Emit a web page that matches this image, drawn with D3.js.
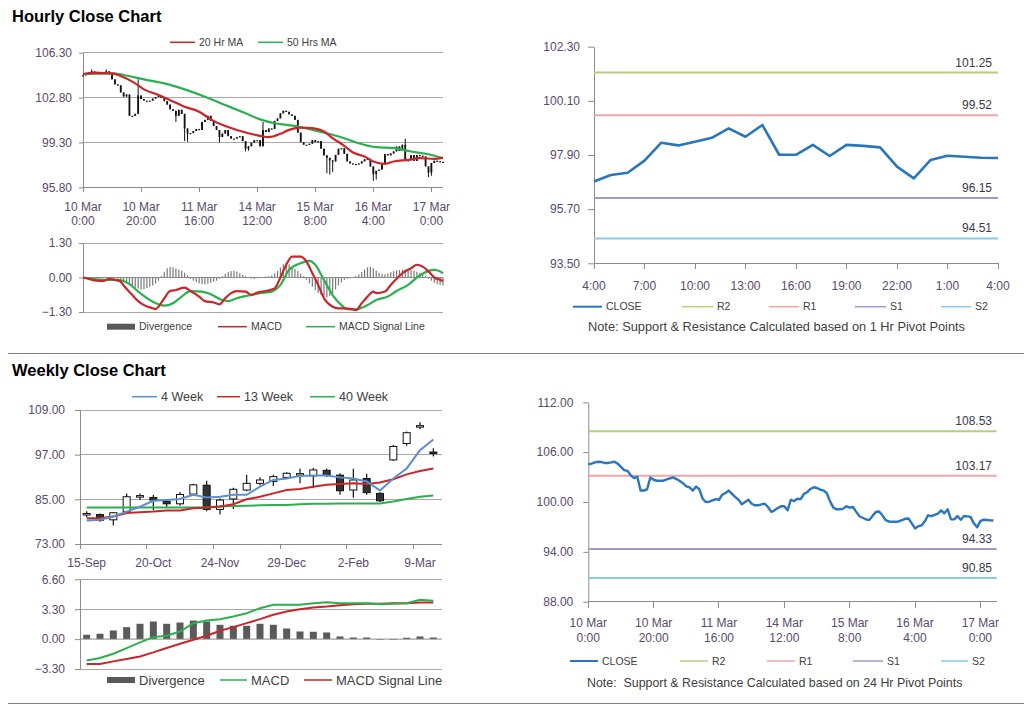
<!DOCTYPE html>
<html><head><meta charset="utf-8">
<script src="https://cdn.jsdelivr.net/npm/d3@7"></script>
<style>body{margin:0;background:#fff}svg{display:block}</style>
</head><body><svg id="c" width="1024" height="706"></svg>
<script>
// ---------------- DATA ----------------
const hourTickIdx = [0, 20, 40, 60, 80, 100, 120];
const hourTickLabels = [["10 Mar","0:00"],["10 Mar","20:00"],["11 Mar","16:00"],["14 Mar","12:00"],["15 Mar","8:00"],["16 Mar","4:00"],["17 Mar","0:00"]];

// hourly close 10 Mar 0:00 .. 16 Mar 3:00 (index 0..99)
const hourlyCloseEarly = [104.54,104.62,104.77,104.85,104.81,104.70,104.70,104.77,104.85,104.62,
 104.22,103.83,103.75,103.20,102.88,103.04,101.38,101.38,101.53,102.96,
 102.68,102.56,102.56,102.56,102.72,102.84,102.96,102.76,102.52,102.25,
 101.89,101.77,101.38,101.85,101.53,100.39,99.99,100.03,100.19,100.35,
 100.27,100.90,101.06,101.38,100.98,100.58,100.27,99.72,99.99,100.27,
 99.79,99.60,99.60,99.72,99.79,99.40,98.81,99.00,99.28,99.48,
 99.48,99.00,100.27,100.11,100.39,100.35,100.98,101.18,101.57,101.77,
 101.69,101.49,101.38,101.06,100.07,99.32,99.12,99.12,99.20,99.48,
 99.32,99.40,98.81,98.29,98.10,97.90,97.82,98.33,98.81,98.85,
 98.41,97.82,97.66,97.62,97.62,97.66,97.82,97.98,98.02,97.42];

// last 24 hours (16 Mar 4:00 .. 17 Mar 4:00)
const dayHours = ["4:00","5:00","6:00","7:00","8:00","9:00","10:00","11:00","12:00","13:00","14:00","15:00","16:00","17:00","18:00","19:00","20:00","21:00","22:00","23:00","0:00","1:00","2:00","3:00","4:00"];
const dayClose = [96.82,97.09,97.18,97.67,98.40,98.29,98.44,98.60,98.98,98.64,99.12,97.91,97.91,98.31,97.86,98.31,98.27,98.21,97.43,96.95,97.70,97.87,97.83,97.79,97.78];

// notable candle wicks [hour, high, low]
const hourlyWicks = [[3,105.0,null],[8,105.0,null],[19,104.22,null],[32,null,100.9],[35,null,99.4],[36,null,99.35],[47,null,99.3],[56,null,98.6],[57,null,98.65],[62,100.9,null],[84,null,96.9],[85,null,96.8],[86,null,97.0],[100,null,96.3],[101,null,96.4],[111,99.6,null],[119,null,96.6],[120,null,96.7]];

const ma20Pts = [[0,104.64],[5,104.72],[10,104.69],[13,104.48],[18,103.91],[21,103.44],[26,103.0],[30,102.6],[35,102.09],[40,101.7],[44,101.1],[49,100.58],[53,100.27],[58,99.96],[61,99.81],[64,99.71],[68,99.97],[71,100.28],[75,100.46],[79,100.41],[83,100.15],[86,99.63],[90,99.03],[93,98.51],[97,98.2],[100,97.81],[104,97.63],[107,97.81],[112,97.94],[116,98.07],[121,98.02],[124,98.12]];
const ma50Pts = [[0,104.64],[10,104.69],[14,104.56],[21,104.22],[28,103.91],[35,103.44],[42,102.87],[49,102.22],[56,101.57],[61,101.1],[66,100.8],[70,100.67],[74,100.54],[78,100.33],[84,100.02],[90,99.63],[95,99.24],[101,98.93],[107,98.85],[113,98.59],[119,98.38],[124,98.07]];

const hMacdPts = [[0,0],[2,-0.05],[4,-0.11],[7,-0.13],[9,-0.05],[11,-0.09],[13,-0.16],[14,-0.30],[17,-0.66],[19,-0.89],[21,-1.04],[24,-1.16],[25,-1.19],[26,-1.10],[28,-0.78],[30,-0.51],[32,-0.47],[35,-0.38],[37,-0.51],[40,-0.72],[42,-0.89],[45,-0.94],[47,-1.01],[49,-0.78],[51,-0.59],[53,-0.51],[56,-0.53],[58,-0.66],[60,-0.57],[63,-0.51],[66,-0.41],[68,0],[70,0.48],[72,0.79],[75,0.79],[77,0.60],[79,0.16],[81,-0.28],[83,-0.78],[86,-1.10],[88,-1.16],[90,-1.16],[93,-1.20],[94,-1.23],[96,-0.97],[98,-0.72],[100,-0.53],[101,-0.59],[104,-0.53],[106,-0.28],[108,-0.05],[110,0.16],[113,0.35],[115,0.48],[117,0.41],[119,0.23],[121,0],[123,-0.09],[124,-0.13]];
const hSignalPts = [[0,0],[3,-0.05],[8,-0.09],[12,-0.09],[16,-0.25],[19,-0.53],[22,-0.78],[26,-1.01],[28,-1.06],[31,-0.97],[34,-0.72],[37,-0.51],[41,-0.53],[44,-0.63],[48,-0.85],[50,-0.89],[53,-0.78],[57,-0.68],[61,-0.59],[65,-0.53],[68,-0.28],[71,0.29],[75,0.54],[78,0.63],[80,0.48],[83,-0.09],[86,-0.66],[89,-1.04],[91,-1.19],[94,-1.20],[98,-1.04],[101,-0.85],[105,-0.72],[108,-0.51],[112,-0.28],[115,0],[119,0.25],[121,0.29],[123,0.23],[124,0.16]];
const hDivergence = [0,-0.02,-0.04,-0.05,-0.03,-0.02,-0.03,-0.02,0.01,0.02,0.01,-0.02,
 -0.05,-0.10,-0.14,-0.20,-0.26,-0.32,-0.38,-0.42,-0.45,-0.44,-0.40,-0.35,-0.30,-0.22,-0.12,0.05,0.22,0.35,
 0.40,0.38,0.34,0.30,0.26,0.18,0.08,-0.05,-0.12,-0.18,-0.22,-0.25,-0.26,-0.24,-0.20,-0.16,-0.12,-0.05,0.05,0.14,
 0.20,0.24,0.25,0.22,0.16,0.10,0.05,0.00,-0.04,-0.05,-0.03,-0.02,0.01,0.03,0.05,0.08,0.15,0.25,0.38,0.50,
 0.55,0.50,0.42,0.33,0.25,0.15,0.05,-0.08,-0.22,-0.35,-0.48,-0.58,-0.66,-0.72,-0.75,-0.70,-0.60,-0.45,-0.30,-0.18,
 -0.10,-0.05,-0.03,-0.02,0.05,0.12,0.20,0.30,0.38,0.40,0.35,0.26,0.18,0.14,0.12,0.15,0.20,0.24,0.27,0.28,
 0.30,0.30,0.30,0.28,0.26,0.22,0.18,0.12,0.05,-0.05,-0.12,-0.20,-0.25,-0.28,-0.30];

const hourLevels = [{name:"R2",value:101.25,color:"#b5d07c"},{name:"R1",value:99.52,color:"#f0a6a6"},{name:"S1",value:96.15,color:"#a795c4"},{name:"S2",value:94.51,color:"#86cce4"}];
const dayLevels  = [{name:"R2",value:108.53,color:"#b5d07c"},{name:"R1",value:103.17,color:"#f0a6a6"},{name:"S1",value:94.33,color:"#a795c4"},{name:"S2",value:90.85,color:"#86cce4"}];

// weekly
const weeks = ["15-Sep","22-Sep","29-Sep","6-Oct","13-Oct","20-Oct","27-Oct","3-Nov","10-Nov","17-Nov","24-Nov","1-Dec","8-Dec","15-Dec","22-Dec","29-Dec","5-Jan","12-Jan","19-Jan","26-Jan","2-Feb","9-Feb","16-Feb","23-Feb","2-Mar","9-Mar","16-Mar"];
const wOpen  = [81.0,80.9,79.5,81.7,85.8,85.5,84.4,83.8,86.4,88.8,82.3,85.1,87.5,89.3,89.8,90.9,91.7,91.3,92.8,91.5,87.5,90.6,86.6,95.6,100.0,104.6,97.7];
const wHigh  = [81.8,81.2,81.6,86.6,86.6,86.2,84.8,87.0,89.2,90.0,85.2,88.1,91.6,90.9,91.6,92.3,93.3,93.5,93.3,92.0,93.2,91.9,86.9,99.6,103.2,105.7,98.7];
const wLow   = [80.2,79.0,78.0,81.2,84.8,82.1,82.8,83.3,86.2,81.8,80.9,82.4,87.2,88.8,88.6,90.6,89.3,88.0,91.0,86.2,85.4,86.2,84.3,95.3,99.4,103.8,96.5];
const wClose = [81.2,79.4,81.4,85.7,86.0,84.8,83.8,86.3,88.9,82.3,84.8,87.7,89.3,90.2,91.1,92.0,91.9,92.9,91.6,87.3,90.2,86.8,84.6,99.2,102.9,104.8,97.5];
const ma4w  = [79.3,79.5,80.4,81.7,83.0,84.6,84.8,85.1,86.2,85.5,85.7,86.2,86.2,88.4,90.2,90.6,91.3,91.4,91.4,90.9,90.6,89.8,87.4,90.6,93.3,98.2,101.1];
const ma13w = [79.9,79.9,80.4,81.3,81.5,81.7,82.0,82.0,82.6,82.8,83.1,83.7,85.0,85.7,86.6,87.5,87.8,88.4,88.9,89.1,89.3,89.1,89.5,90.4,91.7,92.6,93.3];
const ma40w = [82.8,82.8,82.8,82.8,82.8,82.8,82.8,82.8,82.8,82.8,83.1,83.2,83.3,83.4,83.5,83.5,83.7,83.8,83.8,83.9,83.9,83.9,83.9,84.4,85.1,85.7,86.0];
const wDivergence = [0.48,0.59,0.95,1.32,1.69,1.94,1.69,1.83,2.05,1.94,1.58,1.47,1.47,1.69,1.58,1.17,0.84,0.81,0.73,0.29,0.18,0.18,-0.07,-0.07,0.15,0.29,0.18];
const wMacd   = [-2.35,-2.09,-1.61,-0.99,-0.37,0.22,0.37,0.84,1.76,2.05,2.20,2.49,2.86,3.41,3.78,3.78,3.78,3.96,4.07,3.96,3.96,3.96,3.85,3.89,3.96,4.33,4.22];
const wSignal = [-2.75,-2.75,-2.46,-2.20,-1.91,-1.47,-0.99,-0.51,-0.07,0.37,0.92,1.32,1.76,2.20,2.68,3.04,3.30,3.48,3.59,3.74,3.85,3.89,3.89,3.96,3.96,4.03,4.03];
const weekLabelIdx = [0,5,10,15,20,25];

const hourlyClose = hourlyCloseEarly.concat(dayClose);

// ---------------- DRAWING ----------------
const FONT = '"Liberation Sans", Arial, sans-serif';
const TICKC = "#5a4a6c", LEGC = "#404040", GRID = "#a8a8a8", AXC = "#8c8c8c";
const RED = "#cc2529", GREEN = "#2bb04f", BLUE = "#2a76bc";
const svg = d3.select("#c").attr("font-family", FONT);

function leftAxis(scale, ticks, x, tick, pad) {
  const g = svg.append("g").attr("transform", `translate(${x},0)`)
    .call(d3.axisLeft(scale).tickValues(ticks).tickFormat(d3.format(".2f")).tickSize(tick).tickSizeOuter(0).tickPadding(pad));
  g.select(".domain").attr("stroke", AXC);
  g.selectAll(".tick line").attr("stroke", AXC);
  g.selectAll("text").attr("fill", TICKC).attr("font-size", 12).attr("font-family", FONT);
  return g;
}
function grid(scale, ticks, x1, x2, color) {
  svg.append("g").selectAll("line").data(ticks).join("line")
    .attr("x1", x1).attr("x2", x2).attr("y1", d => scale(d)).attr("y2", d => scale(d))
    .attr("stroke", color || GRID).attr("stroke-width", 1).attr("shape-rendering","crispEdges");
}
function legLine(x1, x2, y, color, label, fs, sw) {
  svg.append("line").attr("x1", x1).attr("x2", x2).attr("y1", y).attr("y2", y).attr("stroke", color).attr("stroke-width", sw || 2);
  svg.append("text").attr("x", x2 + 4).attr("y", y).attr("dy", "0.35em").attr("font-size", fs).attr("fill", LEGC).text(label);
}
function legBar(x1, x2, y, label, fs) {
  svg.append("rect").attr("x", x1).attr("y", y - 3).attr("width", x2 - x1).attr("height", 6).attr("fill", "#595959");
  svg.append("text").attr("x", x2 + 4).attr("y", y).attr("dy", "0.35em").attr("font-size", fs).attr("fill", LEGC).text(label);
}
function bottomAxisLine(scale, ticks, y, x1, x2, tick) {
  svg.append("line").attr("x1", x1).attr("x2", x2).attr("y1", y).attr("y2", y).attr("stroke", AXC).attr("shape-rendering","crispEdges");
  svg.append("g").selectAll("line").data(ticks).join("line")
    .attr("x1", d => scale(d)).attr("x2", d => scale(d)).attr("y1", y).attr("y2", y + tick)
    .attr("stroke", AXC).attr("shape-rendering","crispEdges");
}

// Titles and separators
svg.append("text").attr("x", 12).attr("y", 22).attr("font-size", 16.5).attr("font-weight", "bold").attr("fill", "#000").text("Hourly Close Chart");
svg.append("text").attr("x", 12).attr("y", 376).attr("font-size", 16.5).attr("font-weight", "bold").attr("fill", "#000").text("Weekly Close Chart");
svg.append("line").attr("x1", 8).attr("x2", 1024).attr("y1", 353.5).attr("y2", 353.5).attr("stroke", "#808080");
svg.append("line").attr("x1", 8).attr("x2", 1024).attr("y1", 703.5).attr("y2", 703.5).attr("stroke", "#808080");

// ===== Panel 1: hourly candles =====
const xH = d3.scaleLinear().domain([0, 124]).range([83, 443]);
const y1 = d3.scaleLinear().domain([95.8, 106.3]).range([187.3, 52.7]);
const p1Ticks = [95.8, 99.3, 102.8, 106.3];
grid(y1, [99.3, 102.8, 106.3], 83, 443);
leftAxis(y1, p1Ticks, 83, 4, 7);
bottomAxisLine(xH, hourTickIdx, 187.3, 83, 443, 5);
function twoLineLabels(scale, y, gap) {
  const g = svg.append("g");
  hourTickIdx.forEach((h, i) => {
    const t = g.append("text").attr("x", scale(h)).attr("y", y).attr("text-anchor", "middle").attr("font-size", 12).attr("fill", TICKC);
    t.append("tspan").attr("x", scale(h)).text(hourTickLabels[i][0]);
    t.append("tspan").attr("x", scale(h)).attr("dy", gap).text(hourTickLabels[i][1]);
  });
}
twoLineLabels(xH, 211, 14);
const wickMap = new Map(hourlyWicks.map(w => [w[0], w]));
const candles = hourlyClose.map((c, i) => {
  const o = i === 0 ? c : hourlyClose[i - 1];
  const w = wickMap.get(i);
  const hi = Math.max(o, c, w && w[1] != null ? w[1] : -Infinity);
  const lo = Math.min(o, c, w && w[2] != null ? w[2] : Infinity);
  return {i, o, c, hi, lo};
});
const cg = svg.append("g");
cg.selectAll("line").data(candles).join("line")
  .attr("x1", d => xH(d.i)).attr("x2", d => xH(d.i)).attr("y1", d => y1(d.hi)).attr("y2", d => y1(d.lo))
  .attr("stroke", "#111").attr("stroke-width", 1);
cg.selectAll("rect").data(candles).join("rect")
  .attr("x", d => xH(d.i) - 0.9).attr("width", 1.8)
  .attr("y", d => y1(Math.max(d.o, d.c))).attr("height", d => Math.max(1.2, Math.abs(y1(d.o) - y1(d.c))))
  .attr("fill", "#111");
const lineH = y => d3.line().x(d => xH(d[0])).y(d => y(d[1])).curve(d3.curveMonotoneX);
svg.append("path").attr("d", lineH(y1)(ma50Pts)).attr("fill", "none").attr("stroke", GREEN).attr("stroke-width", 2.2);
svg.append("path").attr("d", lineH(y1)(ma20Pts)).attr("fill", "none").attr("stroke", RED).attr("stroke-width", 2.2);
legLine(170, 195, 42.3, RED, "20 Hr MA", 10.5, 1.5);
legLine(258, 283, 42.3, GREEN, "50 Hrs MA", 10.5, 1.5);

// ===== Panel 2: hourly MACD =====
const y2 = d3.scaleLinear().domain([-1.3, 1.3]).range([312, 243]);
grid(y2, [1.3, -1.3], 83, 443);
leftAxis(y2, [-1.3, 0, 1.3], 83, 4, 7);
svg.append("g").selectAll("rect").data(hDivergence).join("rect")
  .attr("x", (d, i) => xH(i) - 0.6).attr("width", 1.2)
  .attr("y", d => y2(Math.max(0, d))).attr("height", d => Math.abs(y2(d) - y2(0)))
  .attr("fill", "#7a7a7a");
svg.append("line").attr("x1", 83).attr("x2", 443).attr("y1", y2(0)).attr("y2", y2(0)).attr("stroke", "#8a8a8a");
svg.append("path").attr("d", lineH(y2)(hSignalPts)).attr("fill", "none").attr("stroke", GREEN).attr("stroke-width", 2.2);
svg.append("path").attr("d", lineH(y2)(hMacdPts)).attr("fill", "none").attr("stroke", RED).attr("stroke-width", 2.2);
legBar(107, 135, 326.7, "Divergence", 10.5);
legLine(218, 247, 326.7, RED, "MACD", 10.5, 1.5);
legLine(306, 335, 326.7, GREEN, "MACD Signal Line", 10.5, 1.5);

// ===== Panel 3: last 24 hours with pivots =====
const x3 = d3.scaleLinear().domain([0, 24]).range([594, 998]);
const y3 = d3.scaleLinear().domain([93.5, 102.3]).range([263.3, 46.7]);
leftAxis(y3, [93.5, 95.7, 97.9, 100.1, 102.3], 594, 6, 8);
const p3TickIdx = d3.range(0, 25, 3);
bottomAxisLine(x3, p3TickIdx, 263.3, 594, 998, 6);
svg.append("g").selectAll("text").data(p3TickIdx).join("text")
  .attr("x", d => x3(d)).attr("y", 290).attr("text-anchor", "middle").attr("font-size", 12).attr("fill", TICKC)
  .text(d => dayHours[d]);
function levels(lv, x, y, x1, x2, labelX) {
  const g = svg.append("g");
  g.selectAll("line").data(lv).join("line").attr("x1", x1).attr("x2", x2)
    .attr("y1", d => y(d.value)).attr("y2", d => y(d.value)).attr("stroke", d => d.color).attr("stroke-width", 2);
  g.selectAll("text").data(lv).join("text").attr("x", labelX).attr("y", d => y(d.value) - 6)
    .attr("text-anchor", "end").attr("font-size", 12).attr("fill", "#3a3a4a").text(d => d.value.toFixed(2));
}
levels(hourLevels, x3, y3, 594, 998, 992);
svg.append("path").attr("d", d3.line().x((d, i) => x3(i)).y(d => y3(d))(dayClose))
  .attr("fill", "none").attr("stroke", BLUE).attr("stroke-width", 2.6).attr("stroke-linejoin", "round");
legLine(573, 602, 306.7, BLUE, "CLOSE", 10.5, 2);
legLine(682, 713, 306.7, hourLevels[0].color, "R2", 10.5, 1.5);
legLine(769, 799, 306.7, hourLevels[1].color, "R1", 10.5, 1.5);
legLine(855, 886, 306.7, hourLevels[2].color, "S1", 10.5, 1.5);
legLine(941, 971, 306.7, hourLevels[3].color, "S2", 10.5, 1.5);
svg.append("text").attr("x", 588).attr("y", 326.7).attr("dy", "0.35em").attr("font-size", 12.8).attr("fill", LEGC)
  .text("Note: Support & Resistance Calculated based on 1 Hr Pivot Points");

// ===== Panel 4: weekly candles =====
const xW = d3.scaleBand().domain(d3.range(weeks.length)).range([80, 440]);
const bw = xW.bandwidth();
const cx = i => xW(i) + bw / 2;
const y4 = d3.scaleLinear().domain([73, 109]).range([544, 410]);
grid(y4, [85, 97, 109], 80, 442);
leftAxis(y4, [73, 85, 97, 109], 80, 5, 10);
const wBounds = [0, 5, 10, 15, 20, 25];
svg.append("line").attr("x1", 80).attr("x2", 442).attr("y1", 544).attr("y2", 544).attr("stroke", AXC).attr("shape-rendering","crispEdges");
svg.append("g").selectAll("line").data(wBounds).join("line")
  .attr("x1", d => xW(d)).attr("x2", d => xW(d)).attr("y1", 544).attr("y2", 549).attr("stroke", AXC).attr("shape-rendering","crispEdges");
svg.append("g").selectAll("text").data(weekLabelIdx).join("text")
  .attr("x", d => cx(d)).attr("y", 567).attr("text-anchor", "middle").attr("font-size", 12).attr("fill", TICKC)
  .text(d => weeks[d]);
const wk = weeks.map((w, i) => ({i, o: wOpen[i], h: wHigh[i], l: wLow[i], c: wClose[i]}));
const wg = svg.append("g");
const lineW = y => d3.line().x((d, i) => cx(i)).y(d => y(d));
svg.append("path").attr("d", lineW(y4)(ma40w)).attr("fill", "none").attr("stroke", GREEN).attr("stroke-width", 2);
svg.append("path").attr("d", lineW(y4)(ma13w)).attr("fill", "none").attr("stroke", RED).attr("stroke-width", 2);
svg.append("path").attr("d", lineW(y4)(ma4w)).attr("fill", "none").attr("stroke", "#5b8fd0").attr("stroke-width", 2);
wg.selectAll("line").data(wk).join("line")
  .attr("x1", d => cx(d.i)).attr("x2", d => cx(d.i)).attr("y1", d => y4(d.h)).attr("y2", d => y4(d.l))
  .attr("stroke", "#111").attr("stroke-width", 1.2);
wg.selectAll("rect").data(wk).join("rect")
  .attr("x", d => cx(d.i) - 3.5).attr("width", 7)
  .attr("y", d => y4(Math.max(d.o, d.c))).attr("height", d => Math.max(1.5, Math.abs(y4(d.o) - y4(d.c))))
  .attr("fill", d => d.c >= d.o ? "#fff" : "#333").attr("stroke", "#111").attr("stroke-width", 1);
legLine(132, 157, 396.7, "#5b8fd0", "4 Week", 12.5, 1.5);
legLine(217, 240, 396.7, RED, "13 Week", 12.5, 1.5);
legLine(310, 335, 396.7, GREEN, "40 Week", 12.5, 1.5);

// ===== Panel 5: weekly MACD =====
const y5 = d3.scaleLinear().domain([-3.3, 6.6]).range([669, 579.3]);
grid(y5, [6.6, 3.3, -3.3], 80, 442);
leftAxis(y5, [-3.3, 0, 3.3, 6.6], 80, 5, 10);
svg.append("g").selectAll("rect").data(wDivergence).join("rect")
  .attr("x", (d, i) => cx(i) - 3.5).attr("width", 7)
  .attr("y", d => y5(Math.max(0, d))).attr("height", d => Math.abs(y5(d) - y5(0)))
  .attr("fill", "#5a5a5a");
svg.append("line").attr("x1", 80).attr("x2", 442).attr("y1", y5(0)).attr("y2", y5(0)).attr("stroke", "#8a8a8a");
svg.append("path").attr("d", lineW(y5)(wSignal)).attr("fill", "none").attr("stroke", RED).attr("stroke-width", 2);
svg.append("path").attr("d", lineW(y5)(wMacd)).attr("fill", "none").attr("stroke", GREEN).attr("stroke-width", 2);
legBar(107, 135, 680, "Divergence", 13);
legLine(220, 247, 680, GREEN, "MACD", 13, 1.5);
legLine(304, 332, 680, RED, "MACD  Signal Line", 13, 1.5);

// ===== Panel 6: hourly close with 24h pivots =====
const x6 = d3.scaleLinear().domain([0, 125]).range([588.3, 996.7]);
const y6 = d3.scaleLinear().domain([88, 112]).range([601.7, 402.3]);
leftAxis(y6, [88, 94, 100, 106, 112], 588.3, 5, 10);
bottomAxisLine(x6, hourTickIdx, 601.7, 588.3, 996.7, 6);
twoLineLabels(x6, 627, 15);
levels(dayLevels, x6, y6, 588.3, 996.7, 992);
svg.append("path").attr("d", d3.line().x((d, i) => x6(i)).y(d => y6(d))(hourlyClose))
  .attr("fill", "none").attr("stroke", BLUE).attr("stroke-width", 2.4).attr("stroke-linejoin", "round");
legLine(570, 598, 661, BLUE, "CLOSE", 10.5, 2);
legLine(680, 708, 661, dayLevels[0].color, "R2", 10.5, 1.5);
legLine(767, 795, 661, dayLevels[1].color, "R1", 10.5, 1.5);
legLine(853, 883, 661, dayLevels[2].color, "S1", 10.5, 1.5);
legLine(941, 968, 661, dayLevels[3].color, "S2", 10.5, 1.5);
svg.append("text").attr("x", 587).attr("y", 683).attr("dy", "0.35em").attr("font-size", 12.4).attr("fill", LEGC)
  .attr("xml:space", "preserve").text("Note:  Support & Resistance Calculated based on 24 Hr Pivot Points");
</script></body></html>
